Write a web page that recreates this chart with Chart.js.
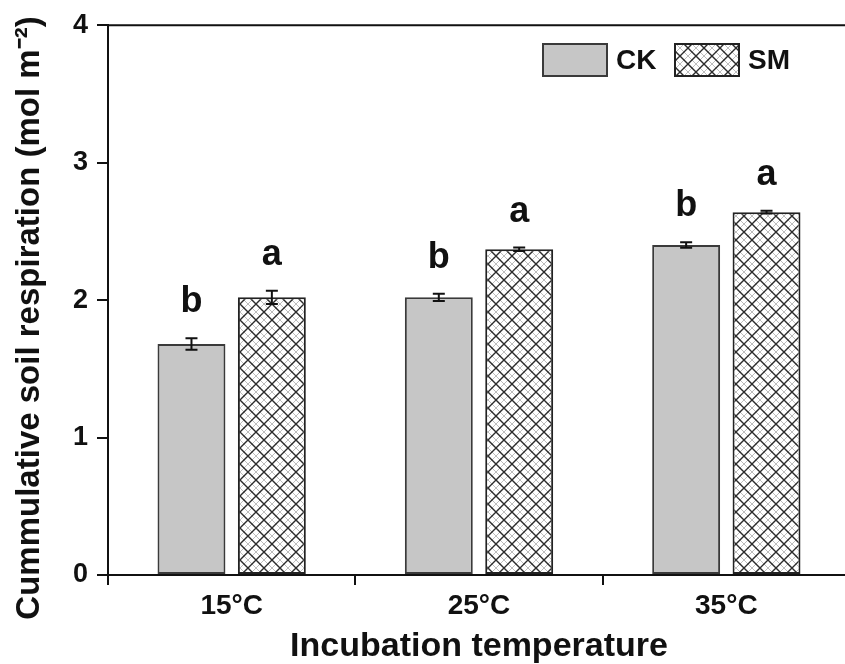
<!DOCTYPE html>
<html>
<head>
<meta charset="utf-8">
<style>
  html, body { margin: 0; padding: 0; background: #fff; overflow: hidden; }
  #wrap { position: relative; width: 860px; height: 664px; }
</style>
<script src="https://cdn.jsdelivr.net/npm/chart.js@4.4.1/dist/chart.umd.min.js"></script>
</head>
<body>
<div id="wrap"><canvas id="c" width="860" height="664"></canvas></div>
<script>
// Incubation temperatures (categories)
const categories = ['15°C', '25°C', '35°C'];

// Cumulative soil respiration, mol m-2
const ckValues = [1.68, 2.02, 2.40];
const ckErrors = [0.042, 0.027, 0.02];
const smValues = [2.02, 2.37, 2.64];
const smErrors = [0.048, 0.012, 0.01];

// Significance letters per treatment
const ckLetters = ['b', 'b', 'b'];
const smLetters = ['a', 'a', 'a'];

// Y axis ticks
const yMin = 0;
const yMax = 4;
const yStep = 1;

const FONT = '"Liberation Sans", Arial, Helvetica, sans-serif';

// White tile with dark diagonal cross lines and lighter in-between lines
function crossHatch() {
  const s = 16;
  const t = document.createElement('canvas');
  t.width = s; t.height = s;
  const g = t.getContext('2d');
  g.fillStyle = '#ffffff';
  g.fillRect(0, 0, s, s);
  g.strokeStyle = '#bdbdbd';
  g.lineWidth = 1;
  g.beginPath();
  g.moveTo(s / 2, 0); g.lineTo(s, s / 2);
  g.moveTo(0, s / 2); g.lineTo(s / 2, s);
  g.moveTo(s / 2, 0); g.lineTo(0, s / 2);
  g.moveTo(s, s / 2); g.lineTo(s / 2, s);
  g.stroke();
  g.strokeStyle = '#2b2b2b';
  g.lineWidth = 1.4;
  g.beginPath();
  g.moveTo(-1, -1); g.lineTo(s + 1, s + 1);
  g.moveTo(-1, s + 1); g.lineTo(s + 1, -1);
  g.stroke();
  return g.createPattern(t, 'repeat');
}
const hatch = crossHatch();

const errorsByDataset = [ckErrors, smErrors];
const lettersByDataset = [ckLetters, smLetters];

// Frame: top and right border of the plot area
const framePlugin = {
  id: 'frame',
  afterDraw(chart) {
    const { ctx, chartArea: a } = chart;
    ctx.save();
    ctx.strokeStyle = '#111';
    ctx.lineWidth = 2;
    ctx.beginPath();
    ctx.moveTo(a.left, a.top);
    ctx.lineTo(a.right, a.top);
    ctx.lineTo(a.right, a.bottom);
    ctx.stroke();
    ctx.restore();
  }
};

// Error bars and significance letters
const errorPlugin = {
  id: 'errorBars',
  afterDatasetsDraw(chart) {
    const { ctx } = chart;
    const y = chart.scales.y;
    ctx.save();
    chart.data.datasets.forEach((ds, di) => {
      const meta = chart.getDatasetMeta(di);
      const errs = errorsByDataset[di];
      const letters = lettersByDataset[di];
      meta.data.forEach((bar, i) => {
        const v = ds.data[i];
        const e = errs[i];
        const yt = y.getPixelForValue(v + e);
        const yb = y.getPixelForValue(v - e);
        const x = bar.x;
        const cap = 6;
        ctx.strokeStyle = '#111';
        ctx.lineWidth = 2;
        ctx.beginPath();
        ctx.moveTo(x, yt); ctx.lineTo(x, yb);
        ctx.moveTo(x - cap, yt); ctx.lineTo(x + cap, yt);
        ctx.moveTo(x - cap, yb); ctx.lineTo(x + cap, yb);
        ctx.stroke();
        ctx.fillStyle = '#111';
        ctx.font = 'bold 36px ' + FONT;
        ctx.textAlign = 'center';
        ctx.textBaseline = 'alphabetic';
        ctx.fillText(letters[i], x, yt - 26);
      });
    });
    ctx.restore();
  }
};

// Legend inside the plot area, top right
const legendPlugin = {
  id: 'innerLegend',
  afterDraw(chart) {
    const { ctx } = chart;
    const items = [
      { x: 543, text: chart.data.datasets[0].label, ds: chart.data.datasets[0] },
      { x: 675, text: chart.data.datasets[1].label, ds: chart.data.datasets[1] }
    ];
    ctx.save();
    items.forEach(it => {
      ctx.fillStyle = it.ds.backgroundColor;
      ctx.fillRect(it.x, 44, 64, 32);
      ctx.strokeStyle = it.ds.borderColor;
      ctx.lineWidth = 2;
      ctx.strokeRect(it.x, 44, 64, 32);
      ctx.fillStyle = '#111';
      ctx.font = 'bold 28px ' + FONT;
      ctx.textAlign = 'left';
      ctx.textBaseline = 'middle';
      ctx.fillText(it.text, it.x + 73, 61);
    });
    ctx.restore();
  }
};

// Vertical axis title
const yTitlePlugin = {
  id: 'yTitle',
  afterDraw(chart) {
    const { ctx } = chart;
    ctx.save();
    ctx.translate(30, 318);
    ctx.rotate(-Math.PI / 2);
    ctx.fillStyle = '#111';
    ctx.font = 'bold 33px ' + FONT;
    ctx.textAlign = 'center';
    ctx.textBaseline = 'middle';
    ctx.fillText('Cummulative soil respiration (mol m\u207B\u00B2)', 0, 0);
    ctx.restore();
  }
};

new Chart(document.getElementById('c'), {
  type: 'bar',
  data: {
    labels: categories,
    datasets: [
      {
        label: 'CK',
        data: ckValues,
        backgroundColor: '#c6c6c6',
        borderColor: '#3a3a3a',
        borderWidth: 2,
        borderSkipped: false,
        categoryPercentage: 0.65,
        barPercentage: 0.845
      },
      {
        label: 'SM',
        data: smValues,
        backgroundColor: hatch,
        borderColor: '#222',
        borderWidth: 2,
        borderSkipped: false,
        categoryPercentage: 0.65,
        barPercentage: 0.845
      }
    ]
  },
  options: {
    responsive: false,
    animation: false,
    devicePixelRatio: 1,
    layout: { padding: { top: 23, right: 10, left: 0, bottom: 0 } },
    plugins: {
      legend: { display: false },
      tooltip: { enabled: false }
    },
    scales: {
      x: {
        offset: true,
        grid: {
          offset: true,
          drawOnChartArea: false,
          drawTicks: true,
          tickLength: 10,
          color: '#111',
          lineWidth: 2
        },
        border: { display: true, color: '#111', width: 2 },
        ticks: {
          color: '#111',
          padding: 4,
          font: { family: FONT, size: 28, weight: 'bold' }
        },
        title: {
          display: true,
          text: 'Incubation temperature',
          color: '#111',
          font: { family: FONT, size: 34, weight: 'bold', lineHeight: 1 },
          padding: { top: 0, bottom: 0 }
        },
        afterFit(scale) { scale.height = 89; }
      },
      y: {
        min: yMin,
        max: yMax,
        grid: {
          drawOnChartArea: false,
          drawTicks: true,
          tickLength: 11,
          color: '#111',
          lineWidth: 2
        },
        border: { display: true, color: '#111', width: 2 },
        ticks: {
          stepSize: yStep,
          color: '#111',
          padding: 9,
          font: { family: FONT, size: 27, weight: 'bold' }
        },
        afterFit(scale) { scale.width = 108; }
      }
    }
  },
  plugins: [framePlugin, errorPlugin, legendPlugin, yTitlePlugin]
});
</script>
</body>
</html>
